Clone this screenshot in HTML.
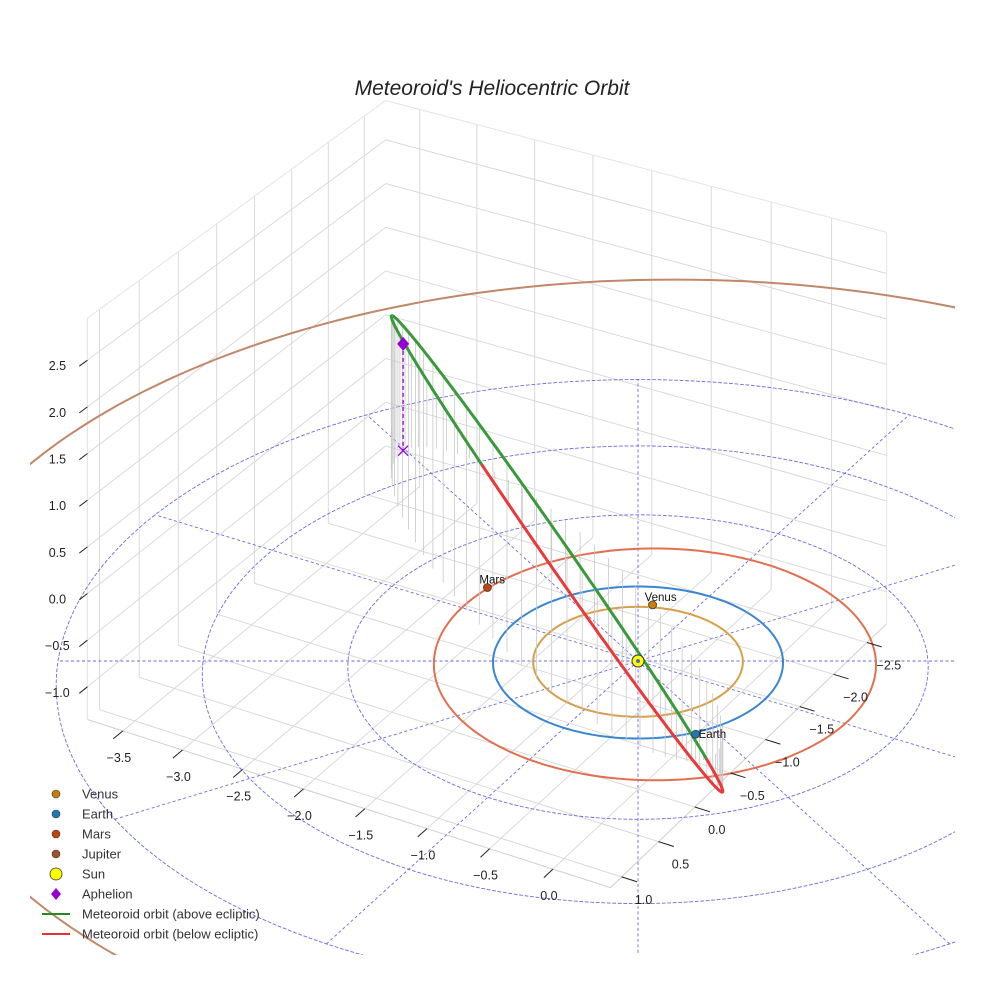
<!DOCTYPE html>
<html><head><meta charset="utf-8"><style>
html,body{margin:0;padding:0;background:#fff;overflow:hidden;width:984px;height:984px}
svg{display:block;font-family:"Liberation Sans",sans-serif}
</style></head><body>
<svg id="c" width="984" height="984" viewBox="0 0 984 984">
<rect width="984" height="984" fill="#fff"/>
<defs><clipPath id="clip"><rect x="30" y="0" width="925" height="955"/></clipPath></defs>
<g id="grid"></g>
<g id="polar" clip-path="url(#clip)"></g>
<g id="orbits" clip-path="url(#clip)"></g>
<g id="drops"></g>
<g id="met"></g>
<g id="marks"></g>
<g id="ticks"></g>
<text x="492" y="95" text-anchor="middle" font-size="21" font-style="italic" fill="#222">Meteoroid's Heliocentric Orbit</text>
<g id="legend"></g>
</svg>
<script>
// ---- data ----
const xTicks=[-3.5,-3.0,-2.5,-2.0,-1.5,-1.0,-0.5,0.0];
const yTicks=[-2.5,-2.0,-1.5,-1.0,-0.5,0.0,0.5,1.0];
const zTicks=[-1.0,-0.5,0.0,0.5,1.0,1.5,2.0,2.5];
const xRange=[-3.8,0.45], yRange=[-2.8,1.15], zRange=[-1.35,2.95];
const planetNames=['Venus','Earth','Mars','Jupiter'];
const planetA=[0.723,1.0,1.524,5.3];
const planetCx=[0.0,0.0,0.10,0.10];
const planetCy=[0.0,0.0,-0.06,-0.38];
const planetColors=['#d4a04a','#3a86d0','#e07050','#c08868'];
const markerColors=['#c87f0a','#1f77b4','#c1440e','#a0522d'];
const planetPosX=[-0.286,0.81,-1.41];
const planetPosY=[-0.70,0.623,-0.324];
const polarRadii=[1,2,3,4];
const polarAngles=[0,30,60,90,120,150];
const orbitAphelionTip=[-2.94,-1.69,1.18];
const orbitPerihelion=[1.04,0.83,-0.08];
const orbitMinor=[0.16,-0.62,-1.55];
const aphelionMark=[-2.95,-1.68,1.19];
const dropCount=70;

const NS='http://www.w3.org/2000/svg';
function P(X,Y,Z){const px=.866*X-.5*Y, py=-.5*X-.866*Y; const f=1/(1+0.02*py);
  return [638+145*px*f, 661-(76*py+95*Z)*f];}
function mk(tag,attrs,parent){const e=document.createElementNS(NS,tag);for(const k in attrs)e.setAttribute(k,attrs[k]);parent.appendChild(e);return e;}
function line(g,a,b,st,name){const e=mk('line',{x1:a[0].toFixed(1),y1:a[1].toFixed(1),x2:b[0].toFixed(1),y2:b[1].toFixed(1),stroke:st.c,'stroke-width':st.w,'stroke-dasharray':st.d||'none'},g);
  
  return e;}
function path(g,pts,st,name){const d=pts.map((p,i)=>(i?'L':'M')+p[0].toFixed(1)+','+p[1].toFixed(1)).join('');
  const e=mk('path',{d:d,fill:'none',stroke:st.c,'stroke-width':st.w,'stroke-dasharray':st.d||'none','stroke-linejoin':'round','stroke-linecap':'round'},g);
  
  return e;}
const [x0,x1]=xRange,[y0,y1]=yRange,[z0,z1]=zRange;
const G=document.getElementById('grid');
const gs={c:'#d6d6d6',w:0.9};
for(const x of xTicks) line(G,P(x,y0,z0),P(x,y1,z0),gs,'floor-grid-x');
for(const y of yTicks) line(G,P(x0,y,z0),P(x1,y,z0),gs,'floor-grid-y');
for(const y of yTicks) line(G,P(x0,y,z0),P(x0,y,z1),gs,'wall-grid-y');
for(const z of zTicks) line(G,P(x0,y0,z),P(x0,y1,z),gs,'wall-grid-z');
for(const x of xTicks) line(G,P(x,y0,z0),P(x,y0,z1),gs,'wall-grid-x');
for(const z of zTicks) line(G,P(x0,y0,z),P(x1,y0,z),gs,'wall2-grid-z');
const es={c:'#e4e4e4',w:1};
line(G,P(x0,y1,z0),P(x1,y1,z0),{c:'#cfcfcf',w:1},'x-axis-line');
line(G,P(x1,y0,z0),P(x1,y1,z0),{c:'#cfcfcf',w:1},'y-axis-line');
line(G,P(x0,y1,z0),P(x0,y1,z1),es,'z-axis-line');
line(G,P(x0,y0,z1),P(x0,y1,z1),es,'wall-top-edge');
line(G,P(x0,y0,z1),P(x1,y0,z1),es,'wall2-top-edge');
line(G,P(x1,y0,z0),P(x1,y0,z1),es,'wall2-right-edge');
const PG=document.getElementById('polar');
const ds={c:'#6a6ae0',w:0.9,d:'3,2.5'};
for(const r of polarRadii){const pts=[];for(let i=0;i<=180;i++){const t=i/180*2*Math.PI;pts.push(P(r*Math.cos(t),r*Math.sin(t),0));}path(PG,pts,ds,'polar-circle');}
const Rmax=polarRadii[polarRadii.length-1];
for(const a of polarAngles){const t=(a-30)*Math.PI/180;line(PG,P(Rmax*Math.cos(t),Rmax*Math.sin(t),0),P(-Rmax*Math.cos(t),-Rmax*Math.sin(t),0),ds,'polar-radial');}
const O=document.getElementById('orbits');
planetNames.forEach((n,i)=>{const pts=[];for(let k=0;k<=240;k++){const t=k/240*2*Math.PI;pts.push(P(planetCx[i]+planetA[i]*Math.cos(t),planetCy[i]+planetA[i]*Math.sin(t),0));}
  path(O,pts,{c:planetColors[i],w:2},n.toLowerCase()+'-orbit');});
const C=orbitAphelionTip.map((v,i)=>(v+orbitPerihelion[i])/2), U=orbitAphelionTip.map((v,i)=>(v-orbitPerihelion[i])/2), V=orbitMinor;
function orb(t){return [0,1,2].map(i=>C[i]+U[i]*Math.cos(t)+V[i]*Math.sin(t));}
const D=document.getElementById('drops');
for(let k=0;k<dropCount;k++){const q=orb(k/dropCount*2*Math.PI);line(D,P(q[0],q[1],q[2]),P(q[0],q[1],0),{c:'#c8c8c8',w:0.8},'drop-line');}
const M=document.getElementById('met');
let seg=[],above=null;const N=400;
for(let k=0;k<=N;k++){const q=orb(k/N*2*Math.PI);const ab=q[2]>=0;const p=P(q[0],q[1],q[2]);
  if(above!==null&&ab!==above){seg.push(p);path(M,seg,{c:above?'#3a9a3a':'#e83a3a',w:3},above?'orbit-above-ecliptic':'orbit-below-ecliptic');seg=[];}
  seg.push(p);above=ab;}
path(M,seg,{c:above?'#3a9a3a':'#e83a3a',w:3},above?'orbit-above-ecliptic':'orbit-below-ecliptic');
const K=document.getElementById('marks');
const am=P(aphelionMark[0],aphelionMark[1],aphelionMark[2]), ag=P(aphelionMark[0],aphelionMark[1],0);
line(K,am,ag,{c:'#9400d3',w:1.3,d:'4,3'},'aphelion-drop');
mk('path',{d:`M${ag[0]-5},${ag[1]-5}L${ag[0]+5},${ag[1]+5}M${ag[0]-5},${ag[1]+5}L${ag[0]+5},${ag[1]-5}`,stroke:'#9400d3','stroke-width':1.3,fill:'none',},K);
mk('path',{d:`M${am[0]},${am[1]-7}L${am[0]+6},${am[1]}L${am[0]},${am[1]+7}L${am[0]-6},${am[1]}Z`,fill:'#9400d3',},K);
planetPosX.forEach((x,i)=>{const p=P(x,planetPosY[i],0);
  mk('circle',{cx:p[0],cy:p[1],r:4,fill:markerColors[i],stroke:'#333','stroke-width':0.7,},K);
  const t=mk('text',{x:p[0]+(i===1?3:-8),y:p[1]+(i===1?4:-4),'font-size':11.5,fill:'#111',},K);t.textContent=planetNames[i];});
const s=P(0,0,0);
mk('circle',{cx:s[0],cy:s[1],r:6,fill:'#ffff00',stroke:'#333','stroke-width':1,},K);
mk('circle',{cx:s[0],cy:s[1],r:2,fill:'#4a6ad0',},K);
const T=document.getElementById('ticks');
function fmt(v){return (v<0?'\u2212':'')+Math.abs(v).toFixed(1);}
function tlabel(x,y,txt,name){const e=mk('text',{x:x.toFixed(1),y:y.toFixed(1),'text-anchor':'middle','font-size':12.5,fill:'#222'},T);e.textContent=txt;
  
  }
for(const x of xTicks){const a=P(x,y1,z0),b=P(x,y1+0.12,z0);line(T,a,b,{c:'#222',w:1},'x-tick');tlabel(a[0]-4,a[1]+31,fmt(x),'x-tick-label');}
for(const y of yTicks){const a=P(x1,y,z0),b=P(x1+0.12,y,z0);line(T,a,b,{c:'#222',w:1},'y-tick');tlabel(a[0]+22,a[1]+27,fmt(y),'y-tick-label');}
for(const z of zTicks){const a=P(x0,y1,z),b=P(x0,y1+0.1,z);line(T,a,b,{c:'#222',w:1},'z-tick');tlabel(a[0]-30,a[1]+10,fmt(z),'z-tick-label');}
const L=document.getElementById('legend');
const legendNames=['Venus','Earth','Mars','Jupiter','Sun','Aphelion','Meteoroid orbit (above ecliptic)','Meteoroid orbit (below ecliptic)'];
legendNames.forEach((n,i)=>{const y=794+i*20;
  if(i<4) mk('circle',{cx:56,cy:y,r:4,fill:markerColors[i],stroke:'#333','stroke-width':0.6,},L);
  else if(i===4) mk('circle',{cx:56,cy:y,r:6,fill:'#ffff00',stroke:'#333','stroke-width':0.8,},L);
  else if(i===5) mk('path',{d:`M56,${y-6}L61,${y}L56,${y+6}L51,${y}Z`,fill:'#9400d3',},L);
  else mk('line',{x1:42,y1:y,x2:70,y2:y,stroke:i===6?'#228b22':'#e83030','stroke-width':2,},L);
  const t=mk('text',{x:82,y:y+4.5,'font-size':13,fill:'#333',},L);t.textContent=n;});
</script>
</body></html>
